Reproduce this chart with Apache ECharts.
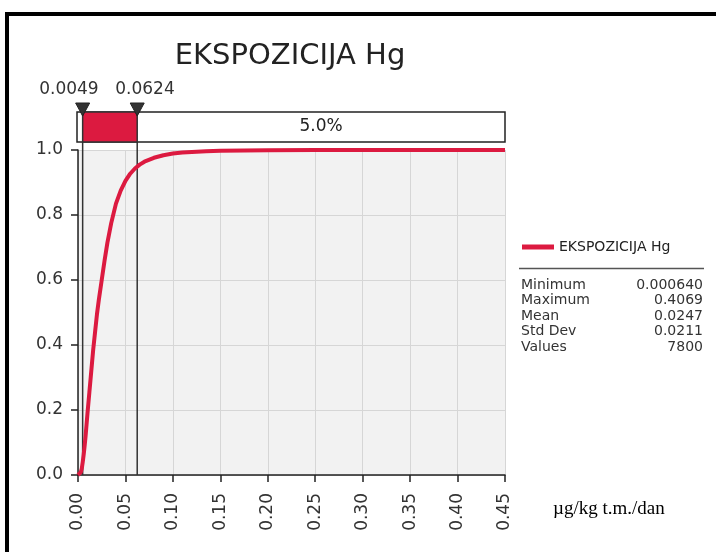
<!DOCTYPE html>
<html>
<head>
<meta charset="utf-8">
<script src="https://cdn.jsdelivr.net/npm/echarts@6/dist/echarts.min.js"></script>
<style>
html,body{margin:0;padding:0;background:#fff;}
#chart{width:716px;height:552px;}
</style>
</head>
<body>
<div id="chart"></div>
<script>
// ---- data ----
const titleText = 'EKSPOZICIJA Hg';
const seriesName = 'EKSPOZICIJA Hg';
const unitLabel = 'µg/kg t.m./dan';
const cdfX = [0, 0.001, 0.002, 0.003, 0.004, 0.005, 0.006, 0.007, 0.008, 0.009, 0.010, 0.012, 0.014, 0.016, 0.018, 0.020, 0.022, 0.025, 0.028, 0.031, 0.035, 0.040, 0.045, 0.050, 0.055, 0.060, 0.065, 0.070, 0.080, 0.090, 0.100, 0.110, 0.120, 0.135, 0.150, 0.175, 0.200, 0.250, 0.300, 0.4069, 0.45];
const cdfP = [0, 0.0005, 0.003, 0.009, 0.02, 0.04, 0.063, 0.09, 0.12, 0.155, 0.19, 0.255, 0.32, 0.385, 0.44, 0.495, 0.54, 0.60, 0.66, 0.715, 0.775, 0.835, 0.875, 0.905, 0.927, 0.943, 0.955, 0.964, 0.976, 0.984, 0.989, 0.992, 0.994, 0.996, 0.9975, 0.9988, 0.9994, 0.9998, 1.0, 1.0, 1.0];
const delimiters = [0.0049, 0.0624];
const delimiterLabels = ['0.0049', '0.0624'];
const rightPctLabel = '5.0%';
const xTicks = ['0.00','0.05','0.10','0.15','0.20','0.25','0.30','0.35','0.40','0.45'];
const yTicks = ['0.0','0.2','0.4','0.6','0.8','1.0'];
const statLabels = ['Minimum', 'Maximum', 'Mean', 'Std Dev', 'Values'];
const statValues = ['0.000640', '0.4069', '0.0247', '0.0211', '7800'];

const RED = '#dc1a40';
const FONT = 'DejaVu Sans';
const chart = echarts.init(document.getElementById('chart'), null, {renderer: 'canvas'});

const curve = cdfX.map((x, i) => [x, cdfP[i]]);

const statGraphics = [];
statLabels.forEach((lab, i) => {
  statGraphics.push({type: 'text', left: 521, top: 278 + i * 15.5,
    style: {text: lab, font: '14px "' + FONT + '"', fill: '#333'}});
  statGraphics.push({type: 'text', right: 13, top: 278 + i * 15.5,
    style: {text: statValues[i], font: '14px "' + FONT + '"', fill: '#333', textAlign: 'right'}});
});

const option = {
  animation: false,
  backgroundColor: '#ffffff',
  title: {
    text: titleText, left: 285, top: 37, textAlign: 'center',
    textStyle: {fontFamily: FONT, fontSize: 29, fontWeight: 'normal', color: '#222'}
  },
  legend: {
    data: [seriesName], left: 517, top: 235, icon: 'rect', itemWidth: 32, itemHeight: 5,
    textStyle: {fontFamily: FONT, fontSize: 14, color: '#222'}
  },
  grid: [
    {left: 78, right: 211, top: 150, bottom: 77, show: true, backgroundColor: '#f2f2f2', borderWidth: 0, containLabel: false},
    {left: 78, right: 211, top: 112, height: 30, show: false}
  ],
  xAxis: [
    {type: 'value', gridIndex: 0, min: 0, max: 0.45, interval: 0.05,
     axisLine: {show: true, onZero: false, lineStyle: {color: '#222', width: 1.5}},
     axisTick: {show: true, length: 7, lineStyle: {color: '#222', width: 1.5}},
     axisLabel: {rotate: 90, margin: 18, fontFamily: FONT, fontSize: 17, color: '#333',
       formatter: (v) => { const i = Math.round(v / 0.05); return xTicks[i] !== undefined ? xTicks[i] : ''; }},
     splitLine: {show: true, lineStyle: {color: '#d6d6d6', width: 1}}},
    {type: 'value', gridIndex: 1, min: 0, max: 0.45, show: false}
  ],
  yAxis: [
    {type: 'value', gridIndex: 0, min: 0, max: 1, interval: 0.2,
     axisLine: {show: true, onZero: false, lineStyle: {color: '#222', width: 1.5}},
     axisTick: {show: true, length: 7, lineStyle: {color: '#222', width: 1.5}},
     axisLabel: {margin: 15, fontFamily: FONT, fontSize: 17, color: '#333',
       formatter: (v) => { const i = Math.round(v / 0.2); return yTicks[i] !== undefined ? yTicks[i] : ''; }},
     splitLine: {show: true, lineStyle: {color: '#d6d6d6', width: 1}}},
    {type: 'value', gridIndex: 1, min: 0, max: 1, show: false}
  ],
  series: [
    {
      type: 'custom', xAxisIndex: 0, yAxisIndex: 0, data: delimiters.map(d => [d]), z: 2, silent: true,
      clip: false,
      renderItem: function (params, api) {
        const d = api.value(0);
        const p0 = api.coord([d, 0]);
        const p1 = api.coord([d, 1]);
        return {type: 'line', shape: {x1: p0[0], y1: p0[1], x2: p1[0], y2: p1[1] - 8},
          style: {stroke: '#333', lineWidth: 1.5}};
      }
    },
    {
      name: seriesName, type: 'line', xAxisIndex: 0, yAxisIndex: 0,
      data: curve, showSymbol: false, smooth: false,
      lineStyle: {color: RED, width: 4, join: 'round'}, itemStyle: {color: RED}, z: 3
    },
    {
      type: 'custom', xAxisIndex: 1, yAxisIndex: 1, data: [[0, 0]], z: 4, silent: true,
      renderItem: function (params, api) {
        const p0 = api.coord([0, 0]);
        const pEnd = api.coord([0.45, 1]);
        const a0 = api.coord([delimiters[0], 0]);
        const a1 = api.coord([delimiters[0], 1]);
        const b0 = api.coord([delimiters[1], 0]);
        const top = a1[1], bottom = a0[1];
        const children = [];
        children.push({type: 'rect', shape: {x: p0[0] - 1, y: top, width: pEnd[0] - p0[0] + 1, height: bottom - top},
          style: {fill: '#fff', stroke: '#222', lineWidth: 1.5}});
        children.push({type: 'rect', shape: {x: a0[0], y: top, width: b0[0] - a0[0], height: bottom - top},
          style: {fill: RED, stroke: '#333', lineWidth: 1.5}});
        children.push({type: 'text', x: (b0[0] + pEnd[0]) / 2, y: (top + bottom) / 2,
          style: {text: rightPctLabel, font: '17px "' + FONT + '"', fill: '#222', textAlign: 'center', textVerticalAlign: 'middle'}});
        [a0[0], b0[0]].forEach((x) => {
          children.push({type: 'polygon', shape: {points: [[x - 7, top - 9], [x + 7, top - 9], [x, top + 4]]},
            style: {fill: '#333', stroke: '#222', lineWidth: 1}});
        });
        children.push({type: 'text', x: a0[0] + 16, y: top - 22,
          style: {text: delimiterLabels[0], font: '17px "' + FONT + '"', fill: '#333', textAlign: 'right', textVerticalAlign: 'middle'}});
        children.push({type: 'text', x: b0[0] - 22, y: top - 22,
          style: {text: delimiterLabels[1], font: '17px "' + FONT + '"', fill: '#333', textAlign: 'left', textVerticalAlign: 'middle'}});
        return {type: 'group', children: children};
      }
    }
  ],
  graphic: [
    {type: 'rect', shape: {x: 5, y: 12, width: 711, height: 4}, style: {fill: '#000'}},
    {type: 'rect', shape: {x: 5, y: 12, width: 4, height: 540}, style: {fill: '#000'}},
    {type: 'line', shape: {x1: 519, y1: 268.5, x2: 704, y2: 268.5}, style: {stroke: '#555', lineWidth: 1.5}},
    {type: 'text', left: 553, top: 500, style: {text: unitLabel, font: '19px "Liberation Serif"', fill: '#000'}}
  ].concat(statGraphics)
};
chart.setOption(option);
</script>
</body>
</html>
